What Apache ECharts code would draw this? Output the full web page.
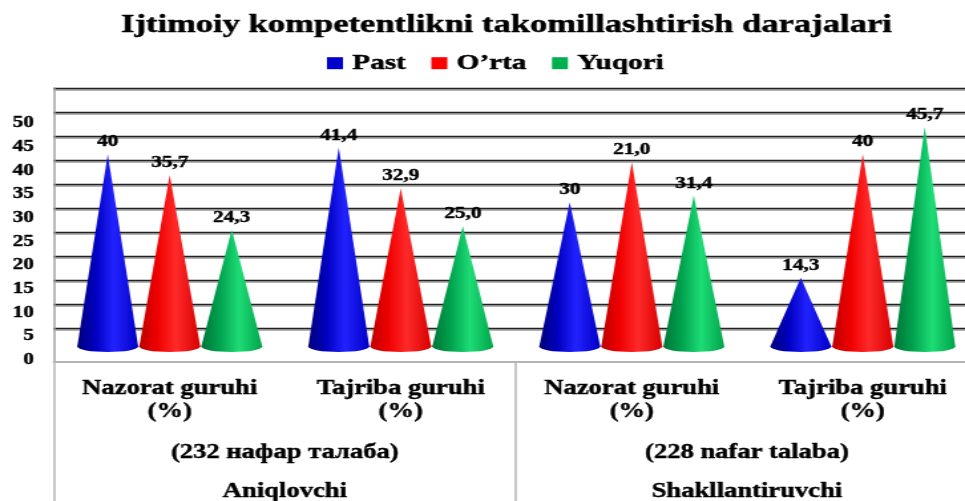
<!DOCTYPE html>
<html>
<head>
<meta charset="utf-8">
<script src="https://cdn.jsdelivr.net/npm/echarts@6/dist/echarts.min.js"></script>
<style>
  html, body { margin: 0; padding: 0; background: #fff; overflow: hidden; width: 965px; height: 501px; }
  #wrap { width: 726px; height: 501px; transform: scaleX(1.32920); transform-origin: 0 0; }
</style>
</head>
<body>
<div id="wrap"></div>
<script>
// ---- data ----
const titleText = 'Ijtimoiy kompetentlikni takomillashtirish darajalari';
const seriesNames = ['Past', 'O’rta', 'Yuqori'];
const categories = ['Nazorat guruhi\n(%)', 'Tajriba guruhi\n(%)', 'Nazorat guruhi\n(%)', 'Tajriba guruhi\n(%)'];
const groups = ['(232 нафар талаба)', '(228 nafar talaba)'];
const stages = ['Aniqlovchi', 'Shakllantiruvchi'];
const past = [40, 41.4, 30, 14.3];
const orta = [35.7, 32.9, 38.4, 40];
const yuqori = [24.3, 25.0, 31.4, 45.7];
const pastLabels = ['40', '41,4', '30', '14,3'];
const ortaLabels = ['35,7', '32,9', '21,0', '40'];
const yuqoriLabels = ['24,3', '25,0', '31,4', '45,7'];
const yTicks = { min: 0, max: 50, step: 5 };

// ---- styles ----
const FONT = "'Liberation Serif','Times New Roman',serif";
const STROKE = { textBorderColor: '#000', textBorderWidth: 0.4 };
const legendColors = ['#0000cc', '#ff0000', '#00b050'];
const coneStops = [
  [{offset: 0, color: '#000078'}, {offset: 0.3, color: '#0000c0'}, {offset: 0.6, color: '#2222ff'}, {offset: 1, color: '#0000c4'}],
  [{offset: 0, color: '#bc0000'}, {offset: 0.3, color: '#f00000'}, {offset: 0.6, color: '#ff2a2a'}, {offset: 1, color: '#d80000'}],
  [{offset: 0, color: '#007538'}, {offset: 0.3, color: '#00a24e'}, {offset: 0.62, color: '#1edc76'}, {offset: 1, color: '#00a44a'}]
];
const labelSets = [pastLabels, ortaLabels, yuqoriLabels];

function coneRenderer(k) {
  return function (params, api) {
    const i = api.value(0), v = api.value(1);
    const tip = api.coord([i, v]);
    const base = api.coord([i, 0]);
    const band = api.size([1, 0])[0];
    const cx = tip[0] + (k - 1) * band * 0.2684;
    const hw = band * 0.132;
    const ry = 5.5;
    const grad = new echarts.graphic.LinearGradient(0, 0, 1, 0, coneStops[k]);
    const grad2 = new echarts.graphic.LinearGradient(0, 0, 1, 0, coneStops[k]);
    return {
      type: 'group',
      children: [
        { type: 'polygon', shape: { points: [[cx - hw, base[1]], [cx, tip[1]], [cx + hw, base[1]]] }, style: { fill: grad } },
        { type: 'circle', x: cx, y: base[1], scaleY: ry / hw, shape: { cx: 0, cy: 0, r: hw }, style: { fill: grad2 } },
        { type: 'text', x: cx, y: tip[1] - 4, style: {
            text: labelSets[k][params.dataIndex], fill: '#000',
            font: 'bold 16px ' + FONT,
            stroke: '#000', lineWidth: 0.4,
            textAlign: 'center', textVerticalAlign: 'bottom',
            align: 'center', verticalAlign: 'bottom'
        } }
      ]
    };
  };
}

const seriesData = [past, orta, yuqori];
const series = seriesData.map((arr, k) => ({
  type: 'custom',
  name: seriesNames[k],
  xAxisIndex: 0, yAxisIndex: 0,
  itemStyle: { color: legendColors[k] },
  encode: { x: 0, y: 1 },
  data: arr.map((v, i) => [i, v]),
  renderItem: coneRenderer(k),
  z: 3
}));

const chart = echarts.init(document.getElementById('wrap'), null, { width: 726, height: 501 });
chart.setOption({
  animation: false,
  backgroundColor: '#fff',
  title: {
    text: titleText, left: 381, top: 12, textAlign: 'center', padding: 0,
    textStyle: Object.assign({ fontFamily: FONT, fontSize: 26, fontWeight: 'bold', color: '#000' }, STROKE)
  },
  legend: {
    data: seriesNames, left: 246, top: 52, padding: 0,
    itemWidth: 12, itemHeight: 12, itemGap: 19, icon: 'rect',
    textStyle: Object.assign({ fontFamily: FONT, fontSize: 22, fontWeight: 'bold', color: '#000', padding: [0, 0, 0, 2] }, STROKE)
  },
  grid: [
    { left: 40.8, width: 695.2, top: 82.1, height: 264.4, outerBoundsMode: 'none', containLabel: false },
    { left: 40, width: 700, top: 88.3, height: 240.4, outerBoundsMode: 'none', containLabel: false },
    { left: 40.5, width: 695.2, top: 123, height: 237, outerBoundsMode: 'none', containLabel: false },
    { left: 40.5, width: 695.2, top: 88, height: 274, outerBoundsMode: 'none', containLabel: false }
  ],
  xAxis: [
    { gridIndex: 0, type: 'category', data: categories,
      axisLine: { show: false }, axisTick: { show: false }, splitLine: { show: false },
      axisLabel: Object.assign({ interval: 0, margin: 31, fontFamily: FONT, fontSize: 20, fontWeight: 'bold', lineHeight: 23, color: '#000' }, STROKE) },
    { gridIndex: 1, type: 'category', data: categories, show: false },
    { gridIndex: 2, type: 'category', data: categories, show: false },
    { gridIndex: 3, type: 'category', data: groups,
      axisLine: { show: true, lineStyle: { color: '#b4b4b4', width: 2 } },
      axisTick: { show: true, length: 139, interval: 0, lineStyle: { color: '#b4b4b4', width: 1.5 } },
      splitLine: { show: false },
      axisLabel: Object.assign({ interval: 0, margin: 71, fontFamily: FONT, fontSize: 20, fontWeight: 'bold', lineHeight: 39, color: '#000',
        formatter: (val, idx) => val + '\n' + stages[idx] }, STROKE) }
  ],
  yAxis: [
    { gridIndex: 0, type: 'value', min: 0, max: 55, show: false },
    { gridIndex: 1, type: 'value', min: 5, max: 55, interval: 5,
      axisLine: { show: false }, axisTick: { show: false }, axisLabel: { show: false },
      splitLine: { show: true, lineStyle: { color: '#222', width: 1.3, shadowColor: 'rgba(0,0,0,0.4)', shadowBlur: 0, shadowOffsetY: 1.5 } } },
    { gridIndex: 2, type: 'value', min: yTicks.min, max: yTicks.max, interval: yTicks.step,
      axisLine: { show: false }, axisTick: { show: false }, splitLine: { show: false },
      axisLabel: Object.assign({ margin: 15, fontFamily: FONT, fontSize: 16, fontWeight: 'bold', color: '#000' }, STROKE) },
    { gridIndex: 3, type: 'value', min: 0, max: 1,
      axisLine: { show: true, lineStyle: { color: '#a0a0a0', width: 1.5 } },
      axisTick: { show: false }, axisLabel: { show: false }, splitLine: { show: false } }
  ],
  series: series
});
</script>
</body>
</html>
